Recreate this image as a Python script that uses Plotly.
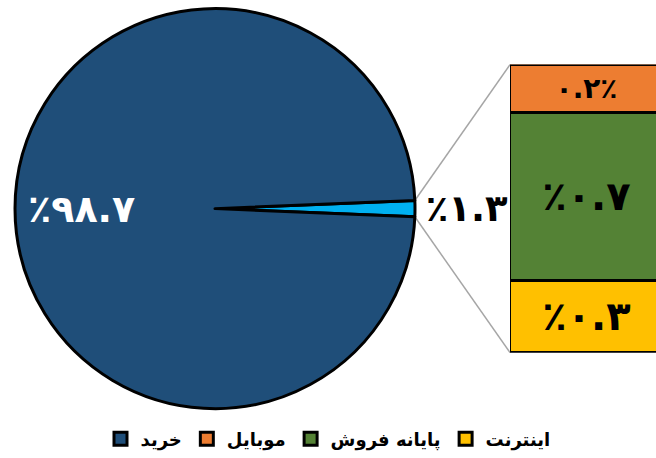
import math
import plotly.graph_objects as go

# ---- data ----
pie_labels = ["سایر", "خرید"]
pie_values = [1.3, 98.7]
pie_colors = ["#00B0F0", "#1F4E79"]

bar_labels = ["اینترنت", "پایانه فروش", "موبایل"]   # bottom -> top
bar_values = [0.3, 0.7, 0.2]
bar_colors = ["#FFC000", "#548235", "#ED7D31"]

legend_labels = ["خرید", "موبایل", "پایانه فروش", "اینترنت"]
legend_colors = ["#1F4E79", "#ED7D31", "#548235", "#FFC000"]

FA = str.maketrans("0123456789", "۰۱۲۳۴۵۶۷۸۹")
def fa(v):
    return str(v).translate(FA)

FONT = "DejaVu Sans"
W, H = 656, 458

# geometry (paper fractions)
pie_dom_x = [15 / W, 415 / W]
pie_dom_y = [1 - 412 / H, 1 - 8 / H]
bar_dom_x = [510 / W, 1.0]
bar_dom_y = [1 - 355 / H, 1 - 65 / H]

small_angle = pie_values[0] / sum(pie_values) * 360
rotation = 90 - small_angle / 2

fig = go.Figure()

fig.add_trace(go.Pie(
    labels=pie_labels, values=pie_values, sort=False, direction="clockwise",
    rotation=rotation,
    marker=dict(colors=pie_colors, line=dict(color="black", width=3)),
    text=["٪" + fa(pie_values[0]), ""],
    textinfo="text", textposition=["outside", "none"],
    textfont=dict(family=FONT, size=37, color="black", weight="bold"),
    domain=dict(x=pie_dom_x, y=pie_dom_y),
    showlegend=False, hoverinfo="skip",
))

for lab, val, col in zip(bar_labels, bar_values, bar_colors):
    txt = (fa(val) + "٪") if lab == "موبایل" else ("٪" + fa(val))
    size = 28 if lab == "موبایل" else 40
    fig.add_trace(go.Bar(
        x=[0], y=[val], width=1, name=lab,
        marker=dict(color=col, line=dict(color="black", width=3)),
        text=[txt], textposition="inside", insidetextanchor="middle", textangle=0,
        textfont=dict(family=FONT, size=size, color="black", weight="bold"),
        constraintext="none", showlegend=False, hoverinfo="skip",
    ))

# legend entries
for lab, col in zip(legend_labels, legend_colors):
    fig.add_trace(go.Scatter(
        x=[None], y=[None], mode="markers", name=lab,
        marker=dict(symbol="square", size=13, color=col, line=dict(color="black", width=3)),
    ))

# geometry of pie in pixels
cx = (pie_dom_x[0] + pie_dom_x[1]) / 2 * W
cy = (1 - (pie_dom_y[0] + pie_dom_y[1]) / 2) * H
r = (pie_dom_x[1] - pie_dom_x[0]) * W / 2
half = math.radians(small_angle / 2)

# label of the large slice
fig.add_annotation(
    x=(cx - 0.665 * r) / W, y=1 - cy / H, xref="paper", yref="paper",
    xanchor="center", yanchor="middle",
    text="٪" + fa(pie_values[1]), showarrow=False,
    font=dict(family=FONT, size=38, color="white", weight="bold"),
)

# connector lines from small slice edge points to bar corners
p_top = (cx + r * math.cos(half), cy - r * math.sin(half))
p_bot = (cx + r * math.cos(half), cy + r * math.sin(half))
shapes = []
for p, yb in [(p_top, bar_dom_y[1]), (p_bot, bar_dom_y[0])]:
    shapes.append(dict(type="line", xref="paper", yref="paper",
                       x0=p[0] / W, y0=1 - p[1] / H, x1=bar_dom_x[0], y1=yb,
                       line=dict(color="#A6A6A6", width=1.5), layer="below"))

fig.update_layout(
    width=W, height=H, margin=dict(l=0, r=0, t=0, b=0),
    paper_bgcolor="white", plot_bgcolor="rgba(0,0,0,0)",
    barmode="stack", bargap=0,
    xaxis=dict(domain=bar_dom_x, range=[-0.5, 0.45], visible=False, fixedrange=True),
    yaxis=dict(domain=bar_dom_y, range=[0, sum(bar_values)], visible=False, fixedrange=True),
    legend=dict(orientation="h", x=0.5, xanchor="center", y=1 - 442 / H, yanchor="middle",
                traceorder="normal",
                font=dict(family=FONT, size=18, color="black", weight="bold"),
                itemsizing="trace", itemwidth=30),
    shapes=shapes,
)

fig.write_html("out.html", config={"displayModeBar": False},
               post_script="document.body.style.margin='0';")
